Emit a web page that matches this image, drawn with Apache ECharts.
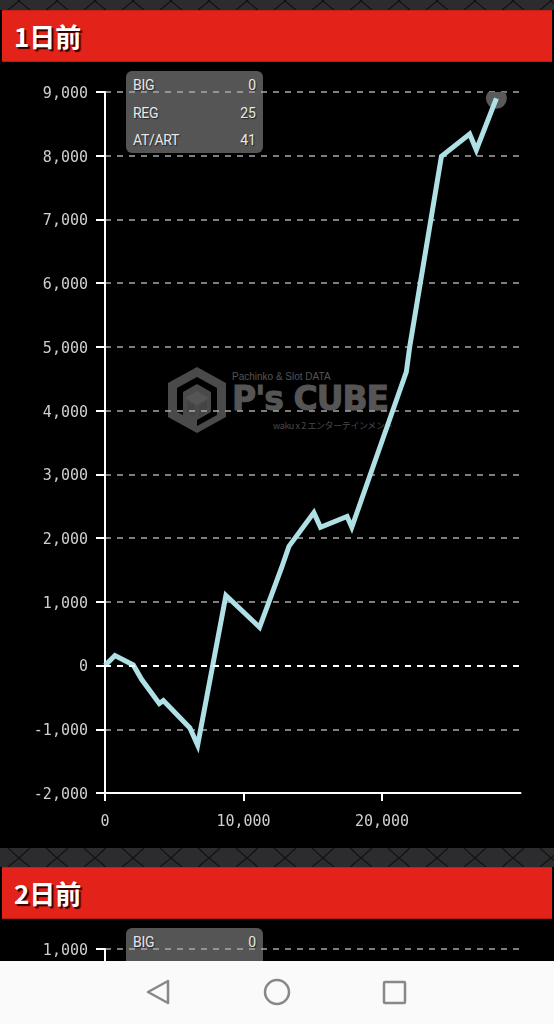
<!DOCTYPE html>
<html lang="ja">
<head>
<meta charset="utf-8">
<title>1日前</title>
<script src="https://cdn.jsdelivr.net/npm/echarts@6/dist/echarts.min.js"></script>
<style>
html,body{margin:0;padding:0;background:#000;}
body{position:relative;width:554px;height:1024px;overflow:hidden;}
.abs{position:absolute;}
.strip{left:0;width:554px;height:19px;
  background-color:#2c2c2e;
  background-image:url("data:image/svg+xml,%3Csvg xmlns='http://www.w3.org/2000/svg' width='38' height='19'%3E%3Cpath d='M8 0L19 10L30 0M8 19L19 10L30 19' fill='none' stroke='%23101010' stroke-width='1.2'/%3E%3C/svg%3E");}
.bar{left:2px;width:550px;height:50px;background:#e3231a;border-top:1px solid #c81d15;border-bottom:1px solid #b81a12;
  color:#fff;font:700 26px/50px "Noto Sans CJK JP";text-indent:12px;text-shadow:2px 2px 1px #300;}
.panel{left:126px;width:137px;height:82px;background:#555;border-radius:6px;}
.row{position:absolute;left:7px;right:7px;display:flex;justify-content:space-between;
  color:#e8e8e8;font:14px/16px Roboto;text-shadow:1px 1px 1px #222;}
.row span:first-child{letter-spacing:-.3px;}
.wm{color:#555;white-space:nowrap;}
#chart1{left:0;top:62px;width:554px;height:786px;}
#chart2{left:0;top:919px;width:554px;height:42px;}
#nav{left:0;top:961px;width:554px;height:63px;background:#fafafa;}
</style>
</head>
<body>
<div class="abs strip" style="top:-9px"></div>
<div class="abs strip" style="top:848px"></div>
<div class="abs bar" style="top:10px" id="title1"></div>
<div class="abs bar" style="top:867px" id="title2"></div>

<!-- watermark sits under the chart -->
<svg class="abs" style="left:165px;top:365px" width="64" height="70" viewBox="0 0 64 70">
  <path d="M32 2L61 18V52L32 68L3 52V18Z M32 12L12 23V47L18 50V27L32 19L46 27V47L32 55V61L52 50V23Z" fill="#4a4a4a" fill-rule="evenodd"/>
  <path d="M32 26L44 33L32 40L20 33Z" fill="#555"/>
  <path d="M22 36L30 41V52L22 47ZM42 36L34 41V52L42 47Z" fill="#444"/>
</svg>
<div class="abs wm" style="left:232px;top:371px;font:10px/12px 'Liberation Sans'">Pachinko &amp; Slot DATA</div>
<div class="abs wm" style="left:232px;top:380px;font:700 33px/38px 'DejaVu Sans';letter-spacing:-1px;-webkit-text-stroke:1px #555">P's CUBE</div>
<div class="abs wm" style="left:273px;top:419px;color:#4a4a4a;font:9px/14px 'Noto Sans CJK JP';letter-spacing:-.4px">waku x 2 エンターテインメント</div>

<div class="abs panel" style="top:71px" id="panel1"></div>
<div class="abs panel" style="top:928px" id="panel2"></div>

<div class="abs" id="chart1"></div>
<div class="abs" id="chart2"></div>

<div class="abs" id="nav">
  <svg width="554" height="63" fill="none" stroke="#888" stroke-width="2.5" stroke-linejoin="round">
    <path d="M168 20V42L148 31Z"/>
    <circle cx="277" cy="31" r="12"/>
    <rect x="384" y="21" width="21" height="21" rx="1"/>
  </svg>
</div>

<script>
let titles = ['1日前', '2日前'];
let panelLabels = ['BIG', 'REG', 'AT/ART'];
let panelValues = ['0', '25', '41'];

// total games / difference coins
let games = [0, 720, 2040, 2650, 3920, 4210, 6130, 6690, 8730, 10700, 11160, 12750, 13280, 15080, 15560, 17480, 17820, 21760, 22000, 24290, 26330, 26810, 28260];
let coins = [0, 157, 10, -220, -595, -550, -980, -1250, 1100, 695, 600, 1535, 1870, 2400, 2170, 2340, 2170, 4610, 5000, 7990, 8340, 8090, 8900];

let lineData = games.map((g, i) => [g, coins[i]]);
let lastPoint = [lineData[lineData.length - 1]];

document.getElementById('title1').innerText = titles[0];
document.getElementById('title2').innerText = titles[1];

function fillPanel(id, count) {
  let p = document.getElementById(id);
  for (let i = 0; i < count; i++) {
    let r = document.createElement('div');
    r.className = 'row';
    r.style.top = (6 + i * 27.5) + 'px';
    r.innerHTML = '<span>' + panelLabels[i] + '</span><span>' + panelValues[i] + '</span>';
    p.appendChild(r);
  }
}
fillPanel('panel1', 3);
fillPanel('panel2', 3);

let labelStyle = { color: '#cfcfcf', fontFamily: 'DejaVu Sans Mono', fontSize: 15 };
let axisStroke = { color: '#fff', width: 2 };
let gridDash = { color: '#a8a8a8', width: 1.5, type: [6, 6] };

// y labels sit a little below the tick in the reference, rich padding nudges them
let yLabel = Object.assign({
  margin: 17,
  formatter: function (v) { return '{a|' + v.toLocaleString('en-US') + '}'; },
  rich: { a: Object.assign({ padding: [4, 0, 0, 0] }, labelStyle) }
}, labelStyle);

let myChart = echarts.init(document.getElementById('chart1'));
let option = {
  animation: false,
  backgroundColor: 'transparent',
  grid: { left: 105, top: 30, width: 415.5, height: 701 },
  xAxis: {
    type: 'value', min: 0, max: 30000, interval: 10000,
    axisLine: { show: true, onZero: false, lineStyle: axisStroke },
    axisTick: { show: true, length: 8, lineStyle: axisStroke },
    axisLabel: Object.assign({ margin: 22, showMaxLabel: false }, labelStyle),
    splitLine: { show: false }
  },
  yAxis: {
    type: 'value', min: -2000, max: 9000, interval: 1000,
    axisLine: { show: true, onZero: false, lineStyle: axisStroke },
    axisTick: { show: true, length: 9, lineStyle: axisStroke },
    axisLabel: yLabel,
    splitLine: { show: true, lineStyle: gridDash }
  },
  series: [
    {
      type: 'custom',
      clip: true,
      coordinateSystem: 'cartesian2d',
      data: lastPoint,
      z: 1,
      renderItem: function (params, api) {
        let c = api.coord([api.value(0), api.value(1)]);
        return { type: 'circle', shape: { cx: c[0], cy: c[1], r: 10.5 }, style: { fill: '#5a5a5a' } };
      }
    },
    {
      type: 'line',
      data: lineData,
      showSymbol: false,
      z: 3,
      lineStyle: { color: '#aee0e6', width: 5, join: 'miter', cap: 'butt' },
      markLine: {
        silent: true,
        symbol: 'none',
        label: { show: false },
        lineStyle: { color: '#fff', width: 2, type: [6, 6] },
        data: [{ yAxis: 0 }]
      }
    }
  ]
};
myChart.setOption(option);

// second chart is cut off by the nav bar, only its top tick shows
let myChart2 = echarts.init(document.getElementById('chart2'));
myChart2.setOption({
  animation: false,
  backgroundColor: 'transparent',
  grid: { left: 105, top: 30, width: 415.5, height: 300 },
  xAxis: { type: 'value', min: 0, max: 30000, show: false },
  yAxis: {
    type: 'value', min: 0, max: 1000, interval: 1000,
    axisLine: { show: true, onZero: false, lineStyle: axisStroke },
    axisTick: { show: true, length: 9, lineStyle: axisStroke },
    axisLabel: yLabel,
    splitLine: { show: true, lineStyle: gridDash }
  },
  series: []
});
</script>
</body>
</html>
